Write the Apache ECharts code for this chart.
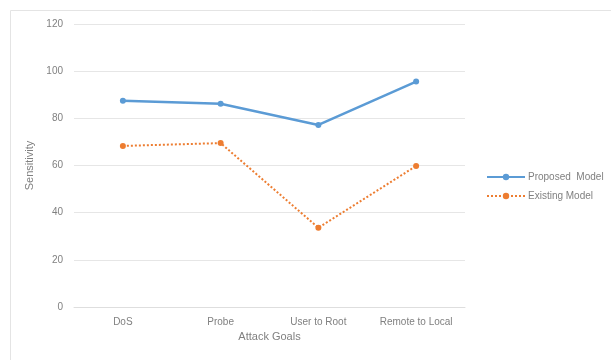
<!DOCTYPE html>
<html>
<head>
<meta charset="utf-8">
<script src="https://cdn.jsdelivr.net/npm/echarts@6/dist/echarts.min.js"></script>
<style>
  html, body { margin: 0; padding: 0; background: #fff; }
  #chart { width: 611px; height: 360px; }
</style>
</head>
<body>
<div id="chart"></div>
<script>
// Sensitivity per attack goal for the two models
const categories = ['DoS', 'Probe', 'User to Root', 'Remote to Local'];
const proposedModel = [87.5, 86.2, 77.2, 95.6];
const existingModel = [68.3, 69.5, 33.6, 59.8];
const yTicks = { min: 0, max: 120, interval: 20 };

const textColor = '#808080';
const font = 'Liberation Sans';

const chart = echarts.init(document.getElementById('chart'), null, { renderer: 'canvas' });
chart.setOption({
  backgroundColor: '#ffffff',
  animation: false,
  textStyle: { fontFamily: font },
  graphic: [{
    type: 'rect',
    shape: { x: 10.5, y: 10.5, width: 620, height: 370 },
    style: { fill: 'none', stroke: '#e4e4e4', lineWidth: 1 },
    silent: true
  }],
  grid: { left: 74, right: 146, top: 24, bottom: 53 },
  legend: {
    orient: 'vertical',
    left: 481,
    top: 167,
    itemWidth: 38,
    itemHeight: 8,
    itemGap: 9,
    textStyle: { color: textColor, fontSize: 10, fontFamily: font, padding: [0, 0, 0, -2] },
    data: ['Proposed  Model', 'Existing Model']
  },
  xAxis: {
    type: 'category',
    data: categories,
    boundaryGap: true,
    name: 'Attack Goals',
    nameLocation: 'middle',
    nameGap: 21,
    nameTextStyle: { color: textColor, fontSize: 11 },
    axisLine: { show: true, lineStyle: { color: '#dedede' } },
    axisTick: { show: false },
    axisLabel: { color: textColor, fontSize: 10, margin: 10 }
  },
  yAxis: {
    type: 'value',
    min: yTicks.min,
    max: yTicks.max,
    interval: yTicks.interval,
    name: 'Sensitivity',
    nameLocation: 'middle',
    nameGap: 35,
    nameRotate: 90,
    nameTextStyle: { color: textColor, fontSize: 11 },
    axisLine: { show: false },
    axisTick: { show: false },
    axisLabel: { color: textColor, fontSize: 10, margin: 11 },
    splitLine: { lineStyle: { color: '#e6e6e6', width: 1 } }
  },
  series: [
    {
      name: 'Proposed  Model',
      type: 'line',
      data: proposedModel,
      symbol: 'circle',
      symbolSize: 6,
      lineStyle: { color: '#5b9bd5', width: 2.5 },
      itemStyle: { color: '#5b9bd5' }
    },
    {
      name: 'Existing Model',
      type: 'line',
      data: existingModel,
      symbol: 'circle',
      symbolSize: 6,
      lineStyle: { color: '#ed7d31', width: 2, type: [2, 2] },
      itemStyle: { color: '#ed7d31' }
    }
  ]
});
</script>
</body>
</html>
